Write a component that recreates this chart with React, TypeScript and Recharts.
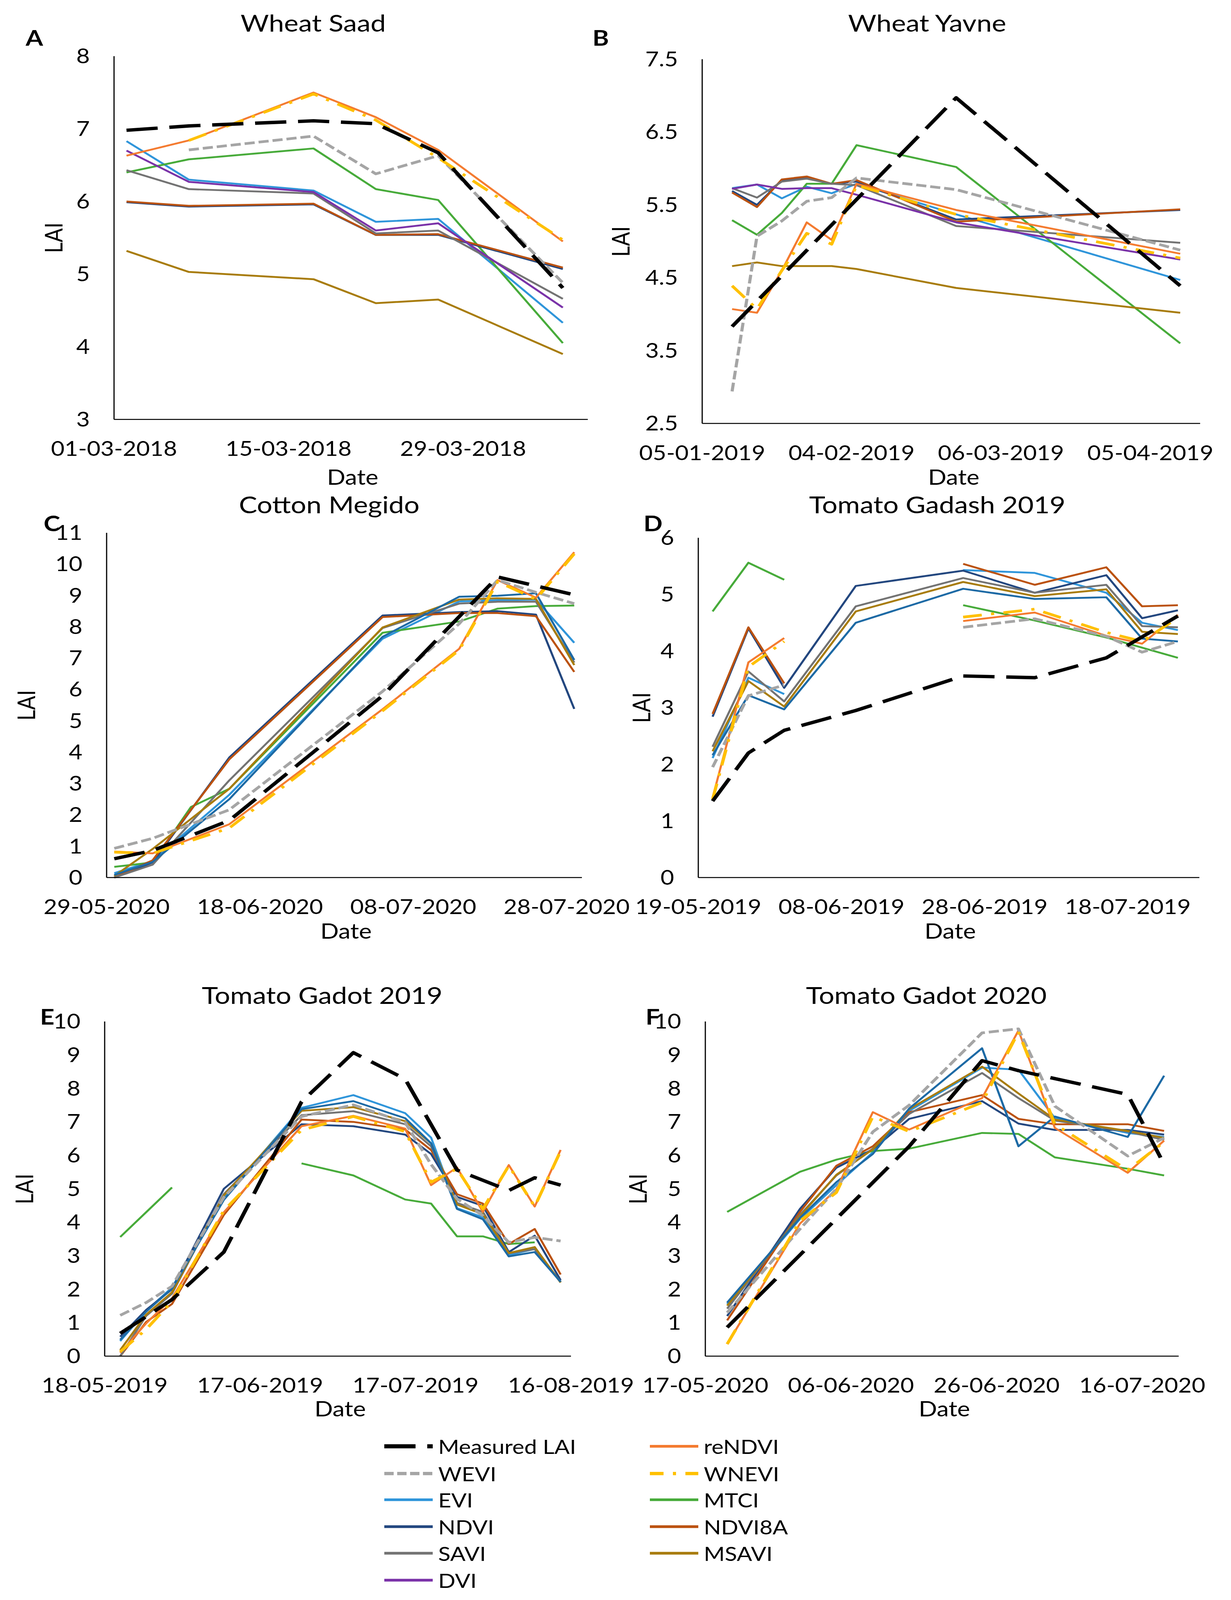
import React from "react";
import { Line, LineChart, XAxis, YAxis } from "recharts";

// `_` = no observation on that date: the line runs straight past it.
// `null` = observation missing and the line is broken there.
const _ = undefined;

type Vals = (number | null | undefined)[];

// ---- A: Wheat Saad (days since 01-03-2018)
const daysA = [1, 6, 16, 21, 26, 36];
const xTicksA = [0, 14, 28];
const xLabelsA = ["01-03-2018", "15-03-2018", "29-03-2018"];
const yTicksA = [3, 4, 5, 6, 7, 8];
const laiA: Record<string, Vals> = {
  measured: [6.98, 7.04, 7.11, 7.07, 6.67, 4.81],
  reNDVI: [6.63, 6.84, 7.5, 7.16, 6.71, 5.45],
  WEVI: [_, 6.71, 6.9, 6.38, 6.63, 4.88],
  WNEVI: [_, 6.84, 7.48, 7.12, 6.6, 5.47],
  EVI: [6.83, 6.3, 6.15, 5.72, 5.76, 4.33],
  MTCI: [6.4, 6.58, 6.73, 6.17, 6.02, 4.05],
  NDVI: [5.99, 5.93, 5.96, 5.54, 5.54, 5.07],
  NDVI8A: [6.0, 5.94, 5.97, 5.54, 5.55, 5.09],
  SAVI: [6.43, 6.17, 6.11, 5.56, 5.6, 4.66],
  MSAVI: [5.32, 5.03, 4.93, 4.6, 4.65, 3.9],
  DVI: [6.7, 6.27, 6.13, 5.6, 5.7, 4.54],
};

// ---- B: Wheat Yavne (days since 05-01-2019)
const daysB = [6, 11, 16, 21, 26, 31, 51, 96];
const xTicksB = [0, 30, 60, 90];
const xLabelsB = ["05-01-2019", "04-02-2019", "06-03-2019", "05-04-2019"];
const yTicksB = [2.5, 3.5, 4.5, 5.5, 6.5, 7.5];
const laiB: Record<string, Vals> = {
  measured: [3.83, _, _, _, _, _, 6.97, 4.39],
  reNDVI: [4.07, 4.02, 4.6, 5.26, 5.02, 5.79, 5.43, 4.83],
  WEVI: [2.94, 5.07, 5.28, 5.55, 5.6, 5.87, 5.71, 4.88],
  WNEVI: [4.39, 4.07, 4.6, 5.11, 4.96, 5.77, 5.37, 4.77],
  EVI: [5.73, 5.78, 5.59, 5.75, 5.66, 5.79, 5.37, 4.47],
  MTCI: [5.29, 5.09, 5.39, 5.79, 5.79, 6.32, 6.02, 3.6],
  NDVI: [5.69, 5.5, 5.84, 5.87, 5.79, 5.82, 5.3, 5.43],
  NDVI8A: [5.67, 5.47, 5.85, 5.89, 5.79, 5.84, 5.27, 5.44],
  SAVI: [5.73, 5.6, 5.82, 5.86, 5.79, 5.77, 5.21, 4.98],
  MSAVI: [4.66, 4.71, 4.66, 4.66, 4.66, 4.62, 4.36, 4.02],
  DVI: [5.72, 5.78, 5.72, 5.73, 5.73, 5.64, 5.26, 4.75],
};

// ---- C: Cotton Megido (days since 29-05-2020)
const daysC = [1, 6, 11, 16, 36, 46, 51, 56, 61];
const xTicksC = [0, 20, 40, 60];
const xLabelsC = ["29-05-2020", "18-06-2020", "08-07-2020", "28-07-2020"];
const yTicksC = [0, 1, 2, 3, 4, 5, 6, 7, 8, 9, 10, 11];
const laiC: Record<string, Vals> = {
  measured: [0.6, 0.86, _, 1.82, 5.8, _, 9.59, _, 9.02],
  reNDVI: [0.83, 0.77, _, 1.7, 5.37, 7.3, 9.49, 8.93, 10.38],
  WEVI: [0.93, 1.25, _, 2.16, 5.94, 8.1, 9.49, 9.1, 8.74],
  WNEVI: [0.81, 0.77, _, 1.58, 5.32, 7.26, 9.44, 8.88, 10.33],
  EVI: [0.14, 0.53, _, 2.64, 7.62, 8.81, 8.85, 8.87, 7.49],
  MTCI: [0.34, 0.48, 2.25, 2.83, 7.81, 8.17, 8.58, 8.66, 8.68],
  NDVI: [0, 0.48, _, 3.83, 8.36, 8.47, 8.5, 8.39, 5.38],
  NDVI8A: [0, 0.55, _, 3.77, 8.31, 8.44, 8.44, 8.34, 6.56],
  SAVI: [0, 0.41, _, 3.1, 7.96, 8.74, 8.8, 8.8, 6.86],
  MSAVI: [0.05, 0.91, _, 2.83, 7.98, 8.87, 8.91, 8.89, 6.78],
  DVI: [0.08, 0.5, _, 2.5, 7.68, 8.96, 8.99, 9.07, 6.94],
};

// ---- D: Tomato Gadash 2019 (days since 19-05-2019)
const daysD = [2, 7, 12, 22, 37, 47, 57, 62, 67];
const xTicksD = [0, 20, 40, 60];
const xLabelsD = ["19-05-2019", "08-06-2019", "28-06-2019", "18-07-2019"];
const yTicksD = [0, 1, 2, 3, 4, 5, 6];
const laiD: Record<string, Vals> = {
  measured: [1.35, 2.2, 2.6, 2.95, 3.56, 3.53, 3.88, _, 4.62],
  reNDVI: [1.41, 3.8, 4.23, null, 4.53, 4.68, 4.27, 4.13, 4.64],
  WEVI: [1.95, 3.21, 3.4, null, 4.42, 4.57, 4.26, 3.98, 4.17],
  WNEVI: [1.38, 3.72, 4.17, null, 4.6, 4.74, 4.33, 4.17, 4.59],
  EVI: [2.11, 3.53, 3.24, null, 5.43, 5.38, 5.03, 4.5, 4.37],
  MTCI: [4.7, 5.56, 5.26, null, 4.81, 4.54, 4.24, 4.06, 3.88],
  NDVI: [2.84, 4.4, 3.35, 5.15, 5.42, 5.03, 5.34, 4.58, 4.72],
  NDVI8A: [2.89, 4.42, 3.43, null, 5.54, 5.17, 5.48, 4.79, 4.81],
  SAVI: [2.31, 3.64, 3.11, 4.79, 5.29, 5.03, 5.17, 4.44, 4.42],
  MSAVI: [2.23, 3.47, 3.02, 4.7, 5.22, 4.97, 5.09, 4.34, 4.3],
  DVI: [2.16, 3.22, 2.97, 4.5, 5.1, 4.92, 4.95, 4.22, 4.17],
};

// ---- E: Tomato Gadot 2019 (days since 18-05-2019)
const daysE = [3, 8, 13, 23, 38, 48, 58, 63, 68, 73, 78, 83, 88];
const xTicksE = [0, 30, 60, 90];
const xLabelsE = ["18-05-2019", "17-06-2019", "17-07-2019", "16-08-2019"];
const yTicksE = [0, 1, 2, 3, 4, 5, 6, 7, 8, 9, 10];
const laiE: Record<string, Vals> = {
  measured: [0.68, 1.18, 1.69, 3.11, 7.6, 9.07, 8.28, _, 5.56, _, 4.95, 5.33, 5.11],
  reNDVI: [0.1, 0.98, 1.73, 4.3, 6.87, 7.18, 6.8, 5.11, 5.64, 4.31, 5.71, 4.47, 6.16],
  WEVI: [1.22, 1.6, 2.09, 4.75, 7.16, 7.51, 6.98, 5.73, 4.7, 4.2, 3.4, 3.55, 3.44],
  WNEVI: [0.13, 0.8, 1.64, 4.35, 6.76, 7.16, 6.71, 5.2, 5.6, 4.4, 5.69, 4.47, 6.13],
  EVI: [0.45, 1.35, 2.05, 4.71, 7.42, 7.8, 7.26, 6.53, 4.42, 4.15, 3.02, 3.2, 2.22],
  MTCI: [3.56, 4.3, 5.04, null, 5.76, 5.4, 4.68, 4.56, 3.58, 3.58, 3.35, 3.4, null],
  NDVI: [0.58, 1.38, 2.0, 5.0, 6.93, 6.87, 6.62, 6.04, 4.76, 4.49, 3.11, 3.6, 2.27],
  NDVI8A: [0, 1.02, 1.56, 4.22, 7.07, 7.0, 6.77, 6.16, 4.84, 4.56, 3.35, 3.8, 2.44],
  SAVI: [0, 1.2, 1.87, 4.84, 7.2, 7.32, 6.93, 6.27, 4.58, 4.31, 3.07, 3.2, 2.22],
  MSAVI: [0.18, 1.24, 1.91, 4.8, 7.33, 7.44, 7.02, 6.36, 4.53, 4.24, 3.08, 3.26, 2.2],
  DVI: [0.49, 1.33, 2.02, 4.67, 7.38, 7.62, 7.11, 6.36, 4.4, 4.09, 2.98, 3.11, 2.22],
};

// ---- F: Tomato Gadot 2020 (days since 17-05-2020)
const daysF = [3, 13, 18, 23, 28, 38, 43, 48, 58, 63];
const xTicksF = [0, 20, 40, 60];
const xLabelsF = ["17-05-2020", "06-06-2020", "26-06-2020", "16-07-2020"];
const yTicksF = [0, 1, 2, 3, 4, 5, 6, 7, 8, 9, 10];
const laiF: Record<string, Vals> = {
  measured: [0.86, _, _, _, 6.27, 8.83, 8.53, _, 7.82, 5.73],
  reNDVI: [0.36, 3.96, 4.98, 7.29, 6.77, 7.71, 9.73, 6.82, 5.48, 6.44],
  WEVI: [1.3, 3.8, 5.0, 6.7, 7.5, 9.66, 9.78, 7.47, 5.98, 6.52],
  WNEVI: [0.36, 4.04, 4.89, 7.16, 6.71, 7.58, 9.69, 6.93, 5.56, 6.4],
  EVI: [1.56, 4.1, 5.11, 6.09, 7.33, 8.62, 8.56, 7.11, 6.67, 6.55],
  MTCI: [4.31, 5.51, 5.87, 6.13, 6.2, 6.67, 6.64, 5.94, 5.6, 5.4],
  NDVI: [1.2, 4.4, 5.63, 6.18, 7.09, 7.62, 6.95, 6.76, 6.76, 6.62],
  NDVI8A: [1.07, 4.31, 5.69, 6.27, 7.29, 7.8, 7.09, 6.93, 6.93, 6.73],
  SAVI: [1.42, 4.22, 5.4, 6.2, 7.24, 8.46, 7.71, 7.04, 6.71, 6.46],
  MSAVI: [1.51, 4.18, 5.42, 6.18, 7.38, 8.65, 7.85, 7.07, 6.73, 6.52],
  DVI: [1.6, 4.13, 5.2, 6.04, 7.4, 9.2, 6.27, 7.16, 6.55, 8.38],
};

const FONT = "Lato, 'Open Sans', sans-serif";

// the figure is laid out at 3152 x 4757; the browser viewport is only 4096 high,
// so the whole page is squeezed vertically to fit it
const PAGE_W = 3152;
const PAGE_H = 4757;
const VIEW_H = 4096;

interface SeriesStyle {
  key: string;
  name: string;
  color: string;
  width: number;
  dash?: string;
}

const STYLE: Record<string, SeriesStyle> = {
  measured: { key: "measured", name: "Measured LAI", color: "#000000", width: 10, dash: "80 30" },
  reNDVI: { key: "reNDVI", name: "reNDVI", color: "#f47b30", width: 5.5 },
  WEVI: { key: "WEVI", name: "WEVI", color: "#a5a5a5", width: 8, dash: "26 10" },
  WNEVI: { key: "WNEVI", name: "WNEVI", color: "#ffc000", width: 8, dash: "48 24 8 24" },
  EVI: { key: "EVI", name: "EVI", color: "#2f95da", width: 5.5 },
  MTCI: { key: "MTCI", name: "MTCI", color: "#47ab3a", width: 5.5 },
  NDVI: { key: "NDVI", name: "NDVI", color: "#23477f", width: 5.5 },
  NDVI8A: { key: "NDVI8A", name: "NDVI8A", color: "#bb5210", width: 5.5 },
  SAVI: { key: "SAVI", name: "SAVI", color: "#737373", width: 5.5 },
  MSAVI: { key: "MSAVI", name: "MSAVI", color: "#a87c0c", width: 5.5 },
  DVI: { key: "DVI", name: "DVI", color: "#7a32a8", width: 5.5 },
};

// solid lines below, dashed ones and the measured LAI on top
const DRAW_ORDER = ["EVI", "MTCI", "NDVI", "NDVI8A", "SAVI", "MSAVI", "DVI", "reNDVI", "WEVI", "WNEVI", "measured"];
const LEGEND_ROWS = [
  ["measured", "reNDVI"],
  ["WEVI", "WNEVI"],
  ["EVI", "MTCI"],
  ["NDVI", "NDVI8A"],
  ["SAVI", "MSAVI"],
  ["DVI"],
];

interface PanelDef {
  letter: string;
  title: string;
  days: number[];
  lai: Record<string, Vals>;
  xTicks: number[];
  xLabels: string[];
  xMax: number;
  yTicks: number[];
  dviColor: string;
  // plot box on the page and where the loose texts go
  box: { l: number; r: number; t: number; b: number };
  titleX: number;
  titleY: number;
  letterX: number;
  letterY: number;
  laiX: number;
  dateX: number;
  dateY: number;
}

const PANELS: PanelDef[] = [
  {
    letter: "A", title: "Wheat Saad", days: daysA, lai: laiA, xTicks: xTicksA, xLabels: xLabelsA, xMax: 38,
    yTicks: yTicksA, dviColor: "#7a32a8", box: { l: 292, r: 1505, t: 167, b: 1247 },
    titleX: 802, titleY: 67, letterX: 88, letterY: 112, laiX: 136, dateX: 903, dateY: 1417,
  },
  {
    letter: "B", title: "Wheat Yavne", days: daysB, lai: laiB, xTicks: xTicksB, xLabels: xLabelsB, xMax: 100,
    yTicks: yTicksB, dviColor: "#7a32a8", box: { l: 1798, r: 3073, t: 176, b: 1259 },
    titleX: 2374, titleY: 67, letterX: 1538, letterY: 112, laiX: 1588, dateX: 2442, dateY: 1417,
  },
  {
    letter: "C", title: "Cotton Megido", days: daysC, lai: laiC, xTicks: xTicksC, xLabels: xLabelsC, xMax: 62,
    yTicks: yTicksC, dviColor: "#1d6aa5", box: { l: 273, r: 1490, t: 1584, b: 2609 },
    titleX: 843, titleY: 1499, letterX: 133, letterY: 1556, laiX: 66, dateX: 886, dateY: 2767,
  },
  {
    letter: "D", title: "Tomato Gadash 2019", days: daysD, lai: laiD, xTicks: xTicksD, xLabels: xLabelsD, xMax: 70,
    yTicks: yTicksD, dviColor: "#1d6aa5", box: { l: 1788, r: 3071, t: 1599, b: 2609 },
    titleX: 2400, titleY: 1499, letterX: 1672, letterY: 1556, laiX: 1641, dateX: 2433, dateY: 2767,
  },
  {
    letter: "E", title: "Tomato Gadot 2019", days: daysE, lai: laiE, xTicks: xTicksE, xLabels: xLabelsE, xMax: 90,
    yTicks: yTicksE, dviColor: "#1d6aa5", box: { l: 268, r: 1462, t: 3037, b: 4032 },
    titleX: 825, titleY: 2958, letterX: 121, letterY: 3022, laiX: 61, dateX: 871, dateY: 4187,
  },
  {
    letter: "F", title: "Tomato Gadot 2020", days: daysF, lai: laiF, xTicks: xTicksF, xLabels: xLabelsF, xMax: 65,
    yTicks: yTicksF, dviColor: "#1d6aa5", box: { l: 1806, r: 3018, t: 3037, b: 4032 },
    titleX: 2372, titleY: 2958, letterX: 1671, letterY: 3022, laiX: 1632, dateX: 2418, dateY: 4187,
  },
];

const PAD_L = 300;
const PAD_R = 300;
const PAD_T = 40;
const PAD_B = 200;

const TICK = { fill: "#000", fontSize: 60, fontFamily: FONT };
const AXIS = { stroke: "#000", strokeWidth: 3 };

function toPoints(days: number[], vals: Vals) {
  return days.map((d, i) => ({ x: d, y: vals[i] })).filter((p) => p.y !== undefined);
}

function Text({ x, y, size, bold, rotate, children }: {
  x: number; y: number; size: number; bold?: boolean; rotate?: boolean; children: React.ReactNode;
}) {
  return (
    <div
      style={{
        position: "absolute",
        left: x,
        top: y,
        transform: `translate(-50%, -50%)${rotate ? " rotate(-90deg)" : ""}`,
        fontFamily: FONT,
        fontSize: size,
        fontWeight: bold ? 700 : 400,
        color: "#000",
        whiteSpace: "nowrap",
        lineHeight: 1,
      }}
    >
      {children}
    </div>
  );
}

function Panel({ p }: { p: PanelDef }) {
  const w = p.box.r - p.box.l;
  const h = p.box.b - p.box.t;
  return (
    <>
      <div style={{ position: "absolute", left: p.box.l - PAD_L, top: p.box.t - PAD_T }}>
        <LineChart
          width={w + PAD_L + PAD_R}
          height={h + PAD_T + PAD_B}
          margin={{ top: PAD_T, right: PAD_R, bottom: 0, left: 0 }}
        >
          <XAxis
            type="number"
            dataKey="x"
            domain={[0, p.xMax]}
            ticks={p.xTicks}
            tickFormatter={(v: number) => p.xLabels[p.xTicks.indexOf(v)] ?? ""}
            interval={0}
            height={PAD_B}
            tickLine={false}
            tickSize={0}
            tickMargin={66}
            axisLine={AXIS}
            tick={TICK}
          />
          <YAxis
            type="number"
            domain={[p.yTicks[0], p.yTicks[p.yTicks.length - 1]]}
            ticks={p.yTicks}
            interval={0}
            width={PAD_L}
            tickLine={false}
            tickSize={0}
            tickMargin={62}
            axisLine={AXIS}
            tick={TICK}
          />
          {DRAW_ORDER.map((k) => {
            const s = STYLE[k];
            return (
              <Line
                key={k}
                data={toPoints(p.days, p.lai[k])}
                dataKey="y"
                type="linear"
                stroke={k === "DVI" ? p.dviColor : s.color}
                strokeWidth={s.width}
                strokeDasharray={s.dash}
                strokeLinejoin="round"
                dot={false}
                activeDot={false}
                connectNulls={false}
                isAnimationActive={false}
              />
            );
          })}
        </LineChart>
      </div>
      <Text x={p.titleX} y={p.titleY} size={70}>{p.title}</Text>
      <Text x={p.letterX} y={p.letterY} size={64} bold>{p.letter}</Text>
      <Text x={p.laiX} y={(p.box.t + p.box.b) / 2} size={62} rotate>LAI</Text>
      <Text x={p.dateX} y={p.dateY} size={62}>Date</Text>
    </>
  );
}

function Swatch({ s }: { s: SeriesStyle }) {
  const offset = s.key === "WNEVI" ? 13 : 0;
  return (
    <svg width={124} height={24} style={{ display: "block" }}>
      <line
        x1={0}
        y1={12}
        x2={124}
        y2={12}
        stroke={s.color}
        strokeWidth={s.dash ? s.width + 2 : 8}
        strokeDasharray={s.key === "WEVI" ? "24 9" : s.dash}
        strokeDashoffset={offset}
      />
    </svg>
  );
}

function Legend() {
  const rowY = [4300, 4381, 4459, 4539, 4618, 4698];
  const colX = [984, 1664];
  return (
    <>
      {LEGEND_ROWS.map((row, ri) =>
        row.map((k, ci) => (
          <div
            key={k}
            style={{
              position: "absolute",
              left: colX[ci],
              top: rowY[ri] - 30,
              height: 60,
              display: "flex",
              alignItems: "center",
              gap: 14,
              fontFamily: FONT,
              fontSize: 58,
              color: "#000",
              whiteSpace: "nowrap",
            }}
          >
            <Swatch s={STYLE[k]} />
            <span>{STYLE[k].name}</span>
          </div>
        ))
      )}
    </>
  );
}

export default function App() {
  return (
    <div
      style={{
        position: "relative",
        margin: -8,
        width: PAGE_W,
        height: VIEW_H,
        background: "#fff",
        overflow: "hidden",
      }}
    >
      <div
        style={{
          position: "absolute",
          left: 0,
          top: 0,
          width: PAGE_W,
          height: PAGE_H,
          transform: `scaleY(${VIEW_H / PAGE_H})`,
          transformOrigin: "0 0",
        }}
      >
        {PANELS.map((p) => (
          <Panel key={p.letter} p={p} />
        ))}
        <Legend />
      </div>
    </div>
  );
}
